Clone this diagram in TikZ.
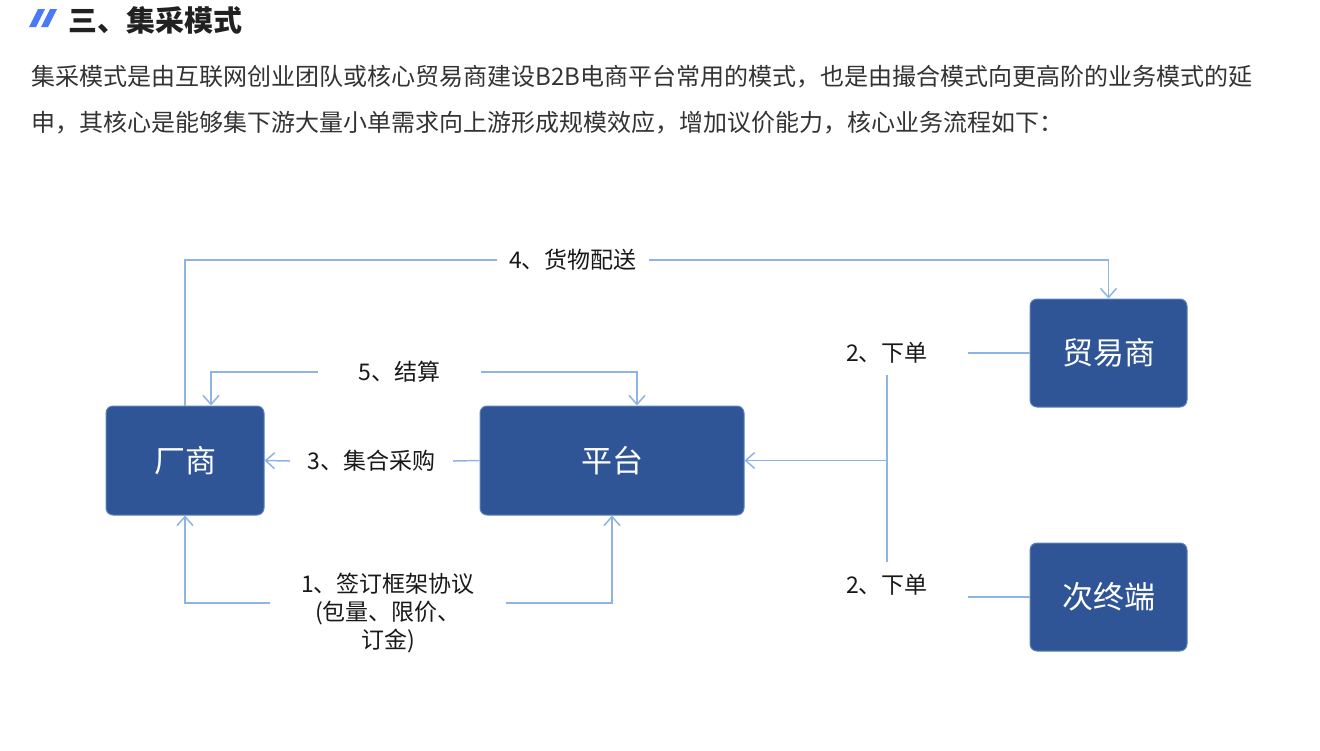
\documentclass[tikz,border=0pt]{standalone}
\usepackage{fontspec}
\setmainfont{Noto Sans CJK SC}
\usepackage{tikz}
\usetikzlibrary{arrows.meta,positioning,calc}
\definecolor{boxblue}{HTML}{2F5597}
\definecolor{boxedge}{HTML}{5B82B8}
\definecolor{flowblue}{HTML}{8DB4E2}
\definecolor{titleblue}{HTML}{4A7BF7}
\definecolor{bodygray}{HTML}{333333}

\begin{document}
\begin{tikzpicture}[x=1pt,y=-1pt,
    party/.style={draw=boxedge,line width=1pt,fill=boxblue,rounded corners=7pt,
        text=white,font=\fontsize{31}{36}\selectfont,inner sep=0pt},
    flowlabel/.style={inner sep=0pt,font=\fontsize{23}{28}\selectfont,text=black!90},
    flow/.style={draw=flowblue,line width=1.5pt},
    flowarrow/.style={flow,-{Straight Barb[length=9pt,width=16pt]}}]
\useasboundingbox (0,0) rectangle (1320,750);

% heading and text
\fill[titleblue] (29,27) -- (36,27) -- (45,9) -- (38,9) -- cycle;
\fill[titleblue] (41,27) -- (48,27) -- (57,9) -- (50,9) -- cycle;
\node[anchor=west,font=\fontsize{29}{34}\selectfont\bfseries,text=black!87] (title) at (65,20) {三、集采模式};
\node[anchor=west,font=\fontsize{24}{30}\selectfont,text=bodygray] (para1) at (28,77)
    {集采模式是由互联网创业团队或核心贸易商建设B2B电商平台常用的模式，也是由撮合模式向更高阶的业务模式的延};
\node[anchor=west,font=\fontsize{24}{30}\selectfont,text=bodygray] (para2) at (28,123)
    {申，其核心是能够集下游大量小单需求向上游形成规模效应，增加议价能力，核心业务流程如下：};

% parties
\node[party,minimum width=158,minimum height=109] (cs) at (185,460.5) {厂商};
\node[party,minimum width=264,minimum height=109] (pt) at (612,460.5) {平台};
\node[party,minimum width=157,minimum height=108] (tr) at (1108.5,353) {贸易商};
\node[party,minimum width=157,minimum height=108] (zd) at (1108.5,597) {次终端};

% step labels
\node[flowlabel,minimum width=235,align=center] (l1) at (388,613) {1、签订框架协议\\(包量、限价、\\订金)};
\node[flowlabel,minimum width=162,minimum height=44] (l2a) at (887,353) {2、下单};
\node[flowlabel,minimum width=162,minimum height=46] (l2b) at (887,585) {2、下单};
\node[flowlabel,minimum width=163] (l3) at (371.5,461) {3、集合采购};
\node[flowlabel,minimum width=152] (l4) at (573,260) {4、货物配送};
\node[flowlabel,minimum width=163] (l5) at (399.5,372) {5、结算};

% flows
\draw[flowarrow] ([yshift=10pt]l1.west) -| (cs.south);
\draw[flowarrow] ([yshift=10pt]l1.east) -| (pt.south);
\draw[flow] (tr.west) -- (l2a.east);
\draw[flow] (zd.west) -- (zd.west -| l2b.east);
\draw[flow] (l2a.south) -- (l2b.north);
\coordinate (split) at (l2a.south |- pt.east);
\draw[flowarrow] (split) -- (pt.east);
\draw[flow] (pt.west) -- (l3.east);
\draw[flowarrow] (l3.west) -- (cs.east);
\draw[flow] (cs.north) |- (l4.west);
\draw[flowarrow] (l4.east) -| (tr.north);
\draw[flowarrow] (l5.west) -| ($(cs.north)+(26,0)$);
\draw[flowarrow] (l5.east) -| ($(pt.north)+(25,0)$);
\end{tikzpicture}
\end{document}
